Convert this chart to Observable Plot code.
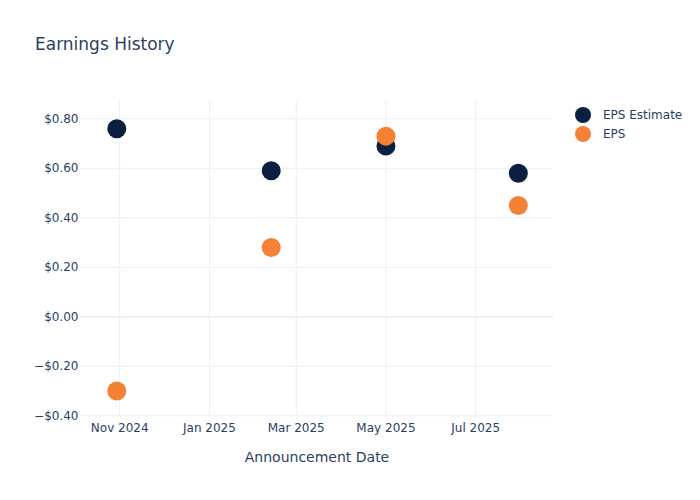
<!DOCTYPE html>
<html>
<head>
<meta charset="utf-8">
<script src="https://cdn.jsdelivr.net/npm/d3@7"></script>
<script src="https://cdn.jsdelivr.net/npm/@observablehq/plot@0.6"></script>
<style>
  html, body { margin: 0; padding: 0; background: #fff; }
  #wrap { position: relative; width: 700px; height: 500px; font-family: "DejaVu Sans", sans-serif; color: #2a3f5f; }
  #title { position: absolute; left: 35px; top: 36px; font-size: 17px; line-height: 17px; white-space: nowrap; }
  #legend { position: absolute; left: 574px; top: 105px; font-size: 12px; }
  .item { display: flex; align-items: center; height: 19px; }
  .item svg { margin-right: 4px; }
  #chart svg { display: block; }
</style>
</head>
<body>
<div id="wrap">
  <div id="chart"></div>
  <div id="title">Earnings History</div>
  <div id="legend"></div>
</div>
<script>
const dates = ["2024-10-30", "2025-02-12", "2025-05-01", "2025-07-30"];
const epsEstimate = [0.76, 0.59, 0.69, 0.58];
const eps = [-0.30, 0.28, 0.73, 0.45];
const seriesNames = ["EPS Estimate", "EPS"];
const seriesColors = ["#0b1f41", "#f58137"];
const yTicks = [-0.4, -0.2, 0, 0.2, 0.4, 0.6, 0.8];
const xTicks = ["2024-11-01", "2025-01-01", "2025-03-01", "2025-05-01", "2025-07-01"];
const xDomain = ["2024-10-05T08:00:00Z", "2025-08-22T22:00:00Z"];
const yDomain = [-0.403, 0.874];

const estRows = dates.map((d, i) => ({date: new Date(d), value: epsEstimate[i]}));
const epsRows = dates.map((d, i) => ({date: new Date(d), value: eps[i]}));
const xTickDates = xTicks.map(d => new Date(d));

const fmt = v => {
  const s = "$" + Math.abs(v).toFixed(2);
  return v < -1e-9 ? "\u2212" + s : s;
};

const grid = "#ebf0f8";
const plot = Plot.plot({
  width: 700,
  height: 500,
  marginLeft: 80,
  marginRight: 147,
  marginTop: 100,
  marginBottom: 84,
  style: {fontFamily: "DejaVu Sans, sans-serif", fontSize: "12px", color: "#2a3f5f", background: "transparent"},
  x: {type: "utc", domain: xDomain.map(d => new Date(d))},
  y: {domain: yDomain},
  marks: [
    Plot.gridX(xTickDates, {stroke: grid, strokeOpacity: 1, strokeWidth: 1}),
    Plot.gridY(yTicks, {stroke: grid, strokeOpacity: 1, strokeWidth: 1}),
    Plot.ruleY([0], {stroke: grid, strokeWidth: 2}),
    Plot.axisY(yTicks, {tickSize: 0, tickPadding: 2, tickFormat: fmt, fill: "#2a3f5f", fontSize: 12, label: null}),
    Plot.axisX(xTickDates, {tickSize: 0, tickPadding: 7, tickFormat: d3.utcFormat("%b %Y"), fill: "#2a3f5f", fontSize: 12, label: null}),
    Plot.dot(estRows, {x: "date", y: "value", r: 9.5, fill: seriesColors[0], stroke: null}),
    Plot.dot(epsRows, {x: "date", y: "value", r: 9.5, fill: seriesColors[1], stroke: null}),
    Plot.text(["Announcement Date"], {frameAnchor: "bottom", dy: 45, fontSize: 14, fill: "#2a3f5f", clip: false})
  ]
});
document.getElementById("chart").appendChild(plot);

const legend = document.getElementById("legend");
seriesNames.forEach((name, i) => {
  const item = document.createElement("div");
  item.className = "item";
  item.innerHTML = `<svg width="18" height="18"><circle cx="9" cy="9" r="8" fill="${seriesColors[i]}"></circle></svg><span style="margin-left:7px">${name}</span>`;
  legend.appendChild(item);
});
</script>
</body>
</html>
